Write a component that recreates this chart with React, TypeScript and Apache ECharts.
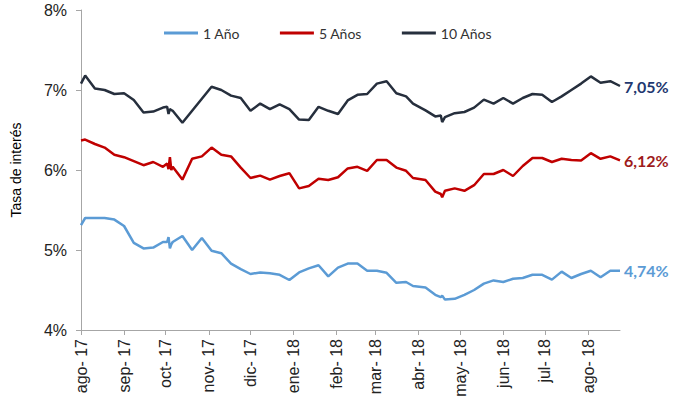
import React, { useEffect, useRef } from "react";
import * as echarts from "echarts";

const dates = [
  "2017-08-01", "2017-08-04", "2017-08-11", "2017-08-18", "2017-08-25",
  "2017-09-01", "2017-09-08", "2017-09-15", "2017-09-22", "2017-09-29",
  "2017-10-02", "2017-10-03", "2017-10-04", "2017-10-05", "2017-10-06",
  "2017-10-13", "2017-10-20", "2017-10-27", "2017-11-03", "2017-11-10",
  "2017-11-17", "2017-11-24", "2017-12-01", "2017-12-08", "2017-12-15",
  "2017-12-22", "2017-12-29", "2018-01-05", "2018-01-12", "2018-01-19",
  "2018-01-26", "2018-02-02", "2018-02-09", "2018-02-16", "2018-02-23",
  "2018-03-02", "2018-03-09", "2018-03-16", "2018-03-23", "2018-03-28",
  "2018-04-06", "2018-04-13", "2018-04-17", "2018-04-18", "2018-04-20",
  "2018-04-27", "2018-05-04", "2018-05-11", "2018-05-18", "2018-05-25",
  "2018-06-01", "2018-06-08", "2018-06-15", "2018-06-22", "2018-06-29",
  "2018-07-06", "2018-07-13", "2018-07-20", "2018-07-27", "2018-08-03",
  "2018-08-10", "2018-08-17", "2018-08-24",
];

const tasa1 = [
  5.31, 5.40, 5.40, 5.40, 5.38,
  5.30, 5.09, 5.02, 5.03, 5.10,
  5.10, 5.16, 5.02, 5.07, 5.10,
  5.175, 5.00, 5.15, 4.99, 4.96,
  4.83, 4.76, 4.70, 4.72, 4.71,
  4.69, 4.625, 4.72, 4.77, 4.81,
  4.67, 4.78, 4.83, 4.83, 4.74,
  4.74, 4.715, 4.59, 4.60, 4.55,
  4.53, 4.44, 4.41, 4.43, 4.38,
  4.39, 4.44, 4.50, 4.58, 4.62,
  4.60, 4.64, 4.65, 4.69, 4.69,
  4.63, 4.73, 4.65, 4.70, 4.74,
  4.66, 4.74, 4.74,
];

const tasa5 = [
  6.37, 6.38, 6.325, 6.28, 6.19,
  6.16, 6.11, 6.06, 6.10, 6.04,
  6.08, 6.01, 6.16, 6.00, 6.04,
  5.88, 6.14, 6.17, 6.28, 6.19,
  6.17, 6.03, 5.90, 5.93, 5.88,
  5.925, 5.96, 5.77, 5.80, 5.89,
  5.875, 5.91, 6.02, 6.04, 5.99,
  6.125, 6.125, 6.03, 5.99, 5.90,
  5.875, 5.73, 5.70, 5.66, 5.74,
  5.77, 5.74, 5.81, 5.95, 5.95,
  6.00, 5.925, 6.05, 6.15, 6.15,
  6.10, 6.14, 6.125, 6.12, 6.21,
  6.14, 6.17, 6.12,
];

const tasa10 = [
  7.08, 7.18, 7.02, 7.00, 6.95,
  6.96, 6.875, 6.72, 6.73, 6.78,
  6.79, 6.70, 6.76, 6.75, 6.74,
  6.59, 6.74, 6.89, 7.04, 7.00,
  6.93, 6.90, 6.74, 6.83, 6.76,
  6.82, 6.76, 6.63, 6.625, 6.79,
  6.74, 6.70, 6.87, 6.94, 6.95,
  7.08, 7.11, 6.96, 6.92, 6.83,
  6.745, 6.67, 6.68, 6.60, 6.66,
  6.71, 6.725, 6.78, 6.88, 6.83,
  6.90, 6.83, 6.90, 6.95, 6.94,
  6.85, 6.92, 7.00, 7.08, 7.17,
  7.09, 7.11, 7.05,
];

const seriesNames = ["1 Año", "5 Años", "10 Años"];
const monthNames = ["ene", "feb", "mar", "abr", "may", "jun", "jul", "ago", "sep", "oct", "nov", "dic"];
const yAxisTitle = "Tasa de interés";

function toTime(s: string): number {
  const [y, m, d] = s.split("-").map(Number);
  return new Date(y, m - 1, d).getTime();
}

export default function App() {
  const ref = useRef<HTMLDivElement>(null);
  useEffect(() => {
    if (!ref.current) return;
    const chart = echarts.init(ref.current, null, { renderer: "svg" });
    const t = dates.map(toTime);
    const mk = (vals: number[]) => t.map((x, i) => [x, vals[i]]);
    const fmtEnd = (p: any) => {
      const v = p.value[1] as number;
      return v.toFixed(2).replace(".", ",") + "%";
    };
    const DAY = 86400000;
    const axisColor = "#A6A6A6";
    const mkSeries = (name: string, vals: number[], color: string, labelColor: string) => ({
      name,
      type: "line",
      data: mk(vals),
      showSymbol: false,
      symbol: "none",
      lineStyle: { width: 2.5, color },
      itemStyle: { color },
      endLabel: {
        show: true,
        formatter: fmtEnd,
        color: labelColor,
        fontSize: 16,
        fontWeight: "bold",
        fontFamily: "Lato",
        distance: 4,
      },
    });
    chart.setOption({
      animation: false,
      backgroundColor: "#ffffff",
      grid: { left: 81, right: 57, top: 10, bottom: 73 },
      legend: {
        top: 21,
        left: 159,
        icon: "rect",
        itemWidth: 34,
        itemHeight: 3,
        itemGap: 40,
        textStyle: { fontSize: 14, color: "#333333", fontFamily: "Lato" },
        data: seriesNames,
      },
      xAxis: {
        type: "time",
        min: t[0],
        max: t[t.length - 1],
        splitNumber: 13,
        minInterval: 28 * DAY,
        maxInterval: 31 * DAY,
        axisLine: { show: true, lineStyle: { color: axisColor, width: 1 } },
        axisTick: { show: true, length: 5, lineStyle: { color: axisColor } },
        splitLine: { show: false },
        axisLabel: {
          rotate: 90,
          fontSize: 16,
          color: "#222222",
          fontFamily: "Liberation Sans",
          margin: 9,
          formatter: (value: number) => {
            const d = new Date(value);
            return monthNames[d.getMonth()] + "- " + String(d.getFullYear() % 100).padStart(2, "0");
          },
        },
      },
      yAxis: {
        type: "value",
        min: 4,
        max: 8,
        interval: 1,
        name: yAxisTitle,
        nameLocation: "middle",
        nameGap: 58,
        nameTextStyle: { fontSize: 14, color: "#000000", fontFamily: "Liberation Sans" },
        axisLine: { show: true, lineStyle: { color: axisColor, width: 1 } },
        axisTick: { show: true, length: 5, lineStyle: { color: axisColor } },
        splitLine: { show: false },
        axisLabel: {
          formatter: "{value}%",
          fontSize: 16,
          color: "#222222",
          fontFamily: "Liberation Sans",
          margin: 14,
        },
      },
      series: [
        mkSeries(seriesNames[0], tasa1, "#5B9BD5", "#5B9BD5"),
        mkSeries(seriesNames[1], tasa5, "#C00000", "#9E1B1B"),
        mkSeries(seriesNames[2], tasa10, "#262F3D", "#1F3870"),
      ],
    });
    return () => chart.dispose();
  }, []);
  return (
    <div
      ref={ref}
      style={{ position: "fixed", left: 0, top: 0, width: 677, height: 403 }}
    />
  );
}
